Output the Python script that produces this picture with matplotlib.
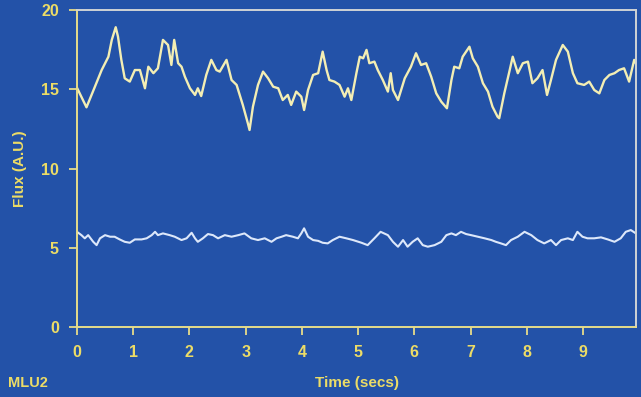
import matplotlib.pyplot as plt

# upper trace (yellow)
t_upper = [0.00, 0.17, 0.32, 0.44, 0.56, 0.62, 0.69, 0.73, 0.79, 0.85,
           0.94, 1.03, 1.12, 1.21, 1.27, 1.36, 1.44, 1.53, 1.62, 1.68,
           1.73, 1.80, 1.86, 1.92, 2.01, 2.10, 2.15, 2.21, 2.30, 2.39,
           2.48, 2.54, 2.66, 2.75, 2.84, 2.95, 3.04, 3.07, 3.13, 3.22,
           3.31, 3.40, 3.49, 3.58, 3.66, 3.75, 3.81, 3.90, 3.99, 4.04,
           4.11, 4.20, 4.29, 4.37, 4.44, 4.49, 4.58, 4.67, 4.76, 4.82,
           4.88, 4.97, 5.03, 5.09, 5.15, 5.20, 5.29, 5.35, 5.44, 5.53,
           5.58, 5.62, 5.71, 5.83, 5.94, 6.03, 6.12, 6.21, 6.30, 6.39,
           6.48, 6.58, 6.66, 6.71, 6.80, 6.86, 6.98, 7.04, 7.13, 7.22,
           7.31, 7.39, 7.48, 7.51, 7.60, 7.69, 7.75, 7.84, 7.93, 8.02,
           8.10, 8.19, 8.28, 8.36, 8.43, 8.52, 8.64, 8.73, 8.82, 8.90,
           9.02, 9.11, 9.20, 9.29, 9.38, 9.47, 9.56, 9.64, 9.73, 9.82,
           9.91, 9.97]
flux_upper = [15.1, 13.86, 15.16, 16.21, 17.05, 18.11, 18.91, 18.32, 16.85, 15.69,
              15.48, 16.21, 16.21, 15.06, 16.42, 16.01, 16.32, 18.11, 17.79, 16.53,
              18.11, 16.64, 16.42, 15.79, 15.06, 14.64, 15.06, 14.57, 15.90, 16.85,
              16.21, 16.11, 16.85, 15.58, 15.27, 14.01, 12.85, 12.43, 13.90, 15.27,
              16.11, 15.69, 15.16, 15.06, 14.32, 14.64, 14.01, 14.85, 14.53, 13.69,
              14.95, 15.90, 16.01, 17.37, 16.21, 15.58, 15.48, 15.27, 14.53, 15.06,
              14.32, 16.01, 17.05, 16.95, 17.48, 16.64, 16.74, 16.21, 15.58, 14.85,
              16.01, 14.95, 14.32, 15.69, 16.42, 17.27, 16.53, 16.64, 15.79, 14.74,
              14.21, 13.80, 15.58, 16.42, 16.32, 17.05, 17.68, 16.95, 16.42, 15.38,
              14.85, 13.90, 13.27, 13.17, 14.74, 16.11, 17.05, 16.01, 16.64, 16.74,
              15.38, 15.69, 16.21, 14.64, 15.58, 16.85, 17.79, 17.37, 16.01, 15.38,
              15.27, 15.48, 14.95, 14.74, 15.58, 15.90, 16.01, 16.21, 16.32, 15.48,
              16.85, 16.42]

# lower trace (white)
t_lower = [0.00, 0.08, 0.14, 0.20, 0.29, 0.35, 0.41, 0.50, 0.59, 0.67,
           0.76, 0.85, 0.94, 1.03, 1.15, 1.24, 1.33, 1.39, 1.44, 1.53,
           1.65, 1.74, 1.86, 1.95, 2.04, 2.10, 2.15, 2.24, 2.33, 2.42,
           2.51, 2.63, 2.75, 2.87, 2.98, 3.10, 3.22, 3.34, 3.46, 3.55,
           3.64, 3.72, 3.84, 3.93, 3.99, 4.04, 4.11, 4.20, 4.29, 4.37,
           4.46, 4.55, 4.67, 4.79, 4.91, 5.06, 5.17, 5.29, 5.40, 5.53,
           5.62, 5.71, 5.80, 5.88, 5.97, 6.06, 6.15, 6.24, 6.36, 6.48,
           6.57, 6.66, 6.74, 6.83, 6.92, 7.01, 7.13, 7.25, 7.37, 7.45,
           7.54, 7.63, 7.72, 7.84, 7.96, 8.08, 8.19, 8.31, 8.43, 8.52,
           8.61, 8.73, 8.82, 8.90, 8.99, 9.08, 9.20, 9.32, 9.44, 9.56,
           9.67, 9.76, 9.85, 9.94]
flux_lower = [6.01, 5.80, 5.60, 5.80, 5.38, 5.17, 5.60, 5.80, 5.70, 5.70,
              5.53, 5.38, 5.32, 5.53, 5.53, 5.60, 5.80, 6.01, 5.80, 5.91,
              5.80, 5.70, 5.49, 5.60, 5.95, 5.60, 5.38, 5.60, 5.87, 5.80,
              5.60, 5.80, 5.70, 5.80, 5.91, 5.60, 5.49, 5.60, 5.38, 5.60,
              5.70, 5.80, 5.70, 5.60, 5.91, 6.23, 5.70, 5.49, 5.44, 5.32,
              5.28, 5.49, 5.70, 5.60, 5.49, 5.32, 5.17, 5.60, 6.01, 5.80,
              5.38, 5.07, 5.49, 5.07, 5.38, 5.60, 5.17, 5.07, 5.17, 5.38,
              5.80, 5.91, 5.80, 6.01, 5.87, 5.80, 5.70, 5.60, 5.49, 5.38,
              5.28, 5.17, 5.49, 5.70, 6.01, 5.80, 5.49, 5.28, 5.49, 5.17,
              5.49, 5.60, 5.49, 6.01, 5.70, 5.60, 5.60, 5.66, 5.53, 5.38,
              5.60, 6.01, 6.12, 5.91]

x_ticks = [0, 1, 2, 3, 4, 5, 6, 7, 8, 9]
y_ticks = [0, 5, 10, 15, 20]

BG = '#2352a8'
YELLOW = '#ecdc66'
AXIS_YELLOW = '#e6dc8a'
FRAME_LIGHT = '#cfd3d6'

plt.rcParams['font.family'] = ['Liberation Sans', 'DejaVu Sans']

fig = plt.figure(figsize=(6.41, 3.97), dpi=100, facecolor=BG)
ax = fig.add_axes([0.120, 0.176, 0.872, 0.799])
ax.set_facecolor(BG)

ax.plot(t_upper, flux_upper, color='#f3eeb4', linewidth=1.7,
        solid_joinstyle='round')
ax.plot(t_lower, flux_lower, color='#dde8fa', linewidth=1.5,
        solid_joinstyle='round')

ax.set_xlim(0, 9.94)
ax.set_ylim(0, 20)
ax.set_xticks(x_ticks)
ax.set_yticks(y_ticks)

ax.spines['left'].set_color(AXIS_YELLOW)
ax.spines['bottom'].set_color(AXIS_YELLOW)
ax.spines['top'].set_color(FRAME_LIGHT)
ax.spines['right'].set_color(FRAME_LIGHT)
for s in ax.spines.values():
    s.set_linewidth(1.4)

ax.tick_params(direction='out', length=6, width=1.3, color=AXIS_YELLOW,
               labelcolor=YELLOW, labelsize=11.5, pad=7)
for lab in ax.get_xticklabels() + ax.get_yticklabels():
    lab.set_fontweight('bold')

ax.set_ylabel('Flux (A.U.)', color=YELLOW, fontsize=11, fontweight='bold',
              labelpad=10)
fig.text(0.557, 0.035, 'Time (secs)', color=YELLOW, fontsize=11,
         fontweight='bold', ha='center', va='center')
fig.text(0.012, 0.035, 'MLU2', color=YELLOW, fontsize=10.5,
         fontweight='bold', ha='left', va='center')

fig.savefig('out.png', dpi=100, facecolor=BG)
